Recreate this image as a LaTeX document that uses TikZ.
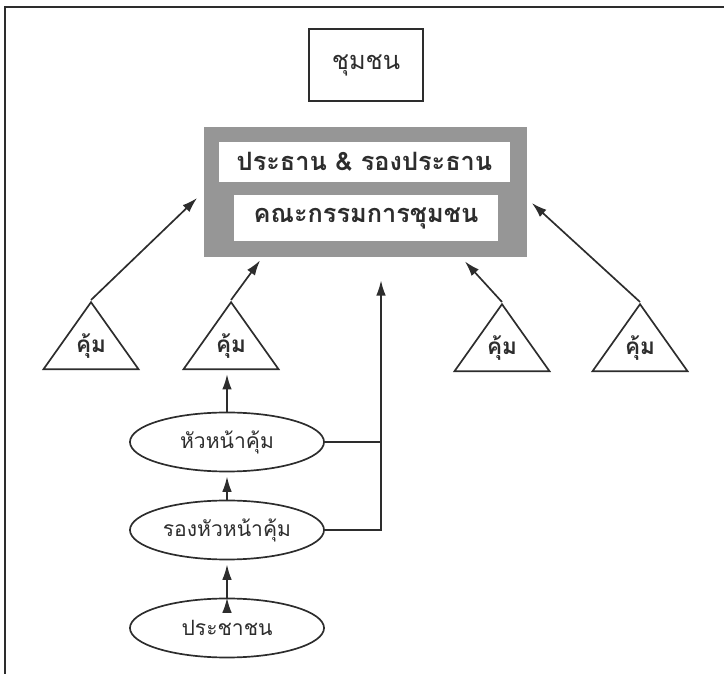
\documentclass[tikz,border=0pt]{standalone}
\usepackage{fontspec}
\newfontfamily\thaifont[Script=Thai]{Loma}
\usetikzlibrary{positioning, shapes.geometric, arrows.meta}
\definecolor{ink}{RGB}{45,45,45}
\definecolor{panelgray}{RGB}{150,150,150}
\tikzset{
x=0.025cm, y=-0.025cm, % one unit is one pixel of the scan
>={Latex[length=3.8mm, width=2.4mm]}, % filled arrow heads
node distance=3.5cm, % distance between the triangles
every node/.style={font=\thaifont\fontsize{15}{17}\selectfont, text=ink},
plain/.style={draw=ink, line width=1.2pt, inner sep=0pt},
kum/.style={plain, isosceles triangle, shape border rotate=90, isosceles triangle stretches, minimum width=2.375cm, minimum height=1.675cm, text height=0pt, text depth=0pt, font=\thaifont\bfseries\fontsize{16}{18}\selectfont},
member/.style={plain, ellipse, minimum width=4.85cm, minimum height=1.475cm},
whitebox/.style={fill=white, inner sep=0pt, font=\thaifont\bfseries\fontsize{18}{20}\selectfont},
gap/.style={shorten >=3pt},
frame/.style={draw=ink, line width=2pt},
}

\begin{document}
\begin{tikzpicture}[draw=ink, line width=1.2pt, every edge/.style={draw=ink, line width=1.2pt}]
                \useasboundingbox (0,0) rectangle (724,674);
                \draw[frame] (4,7) -- (724,7) (5,7) -- (5,674);

                \node[plain, minimum width=2.85cm, minimum height=1.8cm, font=\thaifont\fontsize{18}{20}\selectfont] (comm) at (366,65) {ชุมชน};

                \node[fill=panelgray, minimum width=8.075cm, minimum height=3.225cm] (panel) at (365.5,192) {};
                \node[whitebox, minimum width=7.275cm, minimum height=1cm] (chair) at (364.5,162) {ประธาน \& รองประธาน};
                \node[whitebox, minimum width=6.6cm, minimum height=1.15cm] (board) at (366,218) {คณะกรรมการชุมชน};

                \node[kum, anchor=apex] (kum_a) at (91,300) {คุ้ม};
                \node[kum, right of=kum_a] (kum_b) {คุ้ม};
                \node[kum, anchor=apex] (kum_c) at (502,302) {คุ้ม};
                \node[kum, right of=kum_c, node distance=3.45cm] (kum_d) {คุ้ม};

                \node[member] (head) at (227,442) {หัวหน้าคุ้ม};
                \node[member] (deputy) at (227,530) {รองหัวหน้าคุ้ม};
                \node[member] (people) at (227,628) {ประชาชน};

                \coordinate (tip) at ([shift={(15.5,23)}]panel.south);
                \draw[->]
                    (kum_a.apex) edge ([shift={(-6,6)}]panel.west)
                    (kum_b.apex) edge ([shift={(57,3)}]panel.south west)
                    (kum_c.apex) edge ([shift={(-63,4)}]panel.south east)
                    (kum_d.apex) edge ([shift={(4,11)}]panel.east)
                    %
                    (head.north) edge[gap] (head.north |- kum_b.south)
                    (deputy.north) edge[gap] (head.south)
                    (people.north) edge[gap] (deputy.south)
                    ;
                \draw[->] (deputy.east) -| (tip);
                \draw (head.east) -- (head.east -| tip);
\end{tikzpicture}
\end{document}
